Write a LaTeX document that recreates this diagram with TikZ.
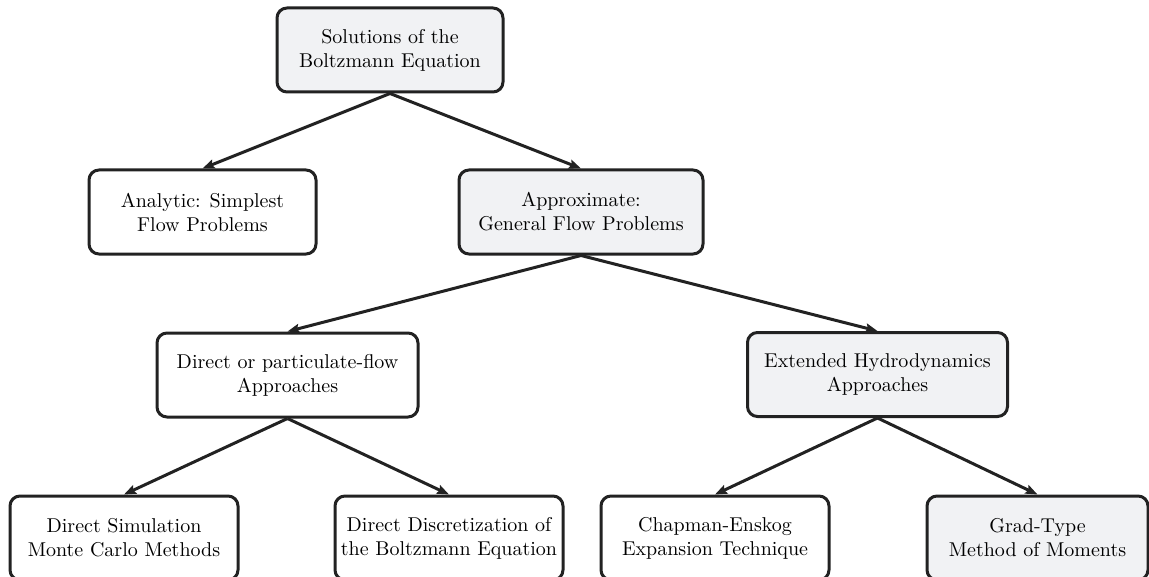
\documentclass[tikz,border=0pt]{standalone}
\usetikzlibrary{arrows.meta}
\definecolor{boxfill}{RGB}{241,242,244}
\definecolor{boxline}{RGB}{34,34,34}
\begin{document}
\begin{tikzpicture}[x=0.5pt,y=-0.5pt,
  box/.style={draw=boxline,line width=1.5pt,rounded corners=5pt,align=center,
    minimum height=42pt,inner sep=0pt,font=\fontsize{10}{12}\selectfont},
  greybox/.style={box,fill=boxfill},
  whitebox/.style={box,fill=white},
  conn/.style={draw=boxline,line width=1.5pt,-{Stealth[length=6pt,width=4.6pt,inset=1pt]}}]
\useasboundingbox (0,0) rectangle (1149,577);
\node[greybox,minimum width=113pt] (top) at (390,50) {Solutions of the\\Boltzmann Equation};
\node[whitebox,minimum width=113.5pt] (analytic) at (202.5,212) {Analytic: Simplest\\Flow Problems};
\node[greybox,minimum width=122pt] (approx) at (581,212) {Approximate:\\General Flow Problems};
\node[whitebox,minimum width=130.5pt] (direct) at (287.5,375) {Direct or particulate-flow\\Approaches};
\node[greybox,minimum width=130pt] (ext) at (877.5,374.5) {Extended Hydrodynamics\\Approaches};
\node[whitebox,minimum width=114pt] (dsmc) at (124,538) {Direct Simulation\\Monte Carlo Methods};
\node[whitebox,minimum width=114pt] (ddbe) at (449,538) {Direct Discretization of\\the Boltzmann Equation};
\node[whitebox,minimum width=114pt] (chap) at (715,538) {Chapman-Enskog\\Expansion Technique};
\node[greybox,minimum width=110.5pt] (grad) at (1037.5,538) {Grad-Type\\Method of Moments};
\draw[conn] (top.south) -- (analytic.north);
\draw[conn] (top.south) -- (approx.north);
\draw[conn] (approx.south) -- (direct.north);
\draw[conn] (approx.south) -- (ext.north);
\draw[conn] (direct.south) -- (dsmc.north);
\draw[conn] (direct.south) -- (ddbe.north);
\draw[conn] (ext.south) -- (chap.north);
\draw[conn] (ext.south) -- (grad.north);
\end{tikzpicture}
\end{document}
